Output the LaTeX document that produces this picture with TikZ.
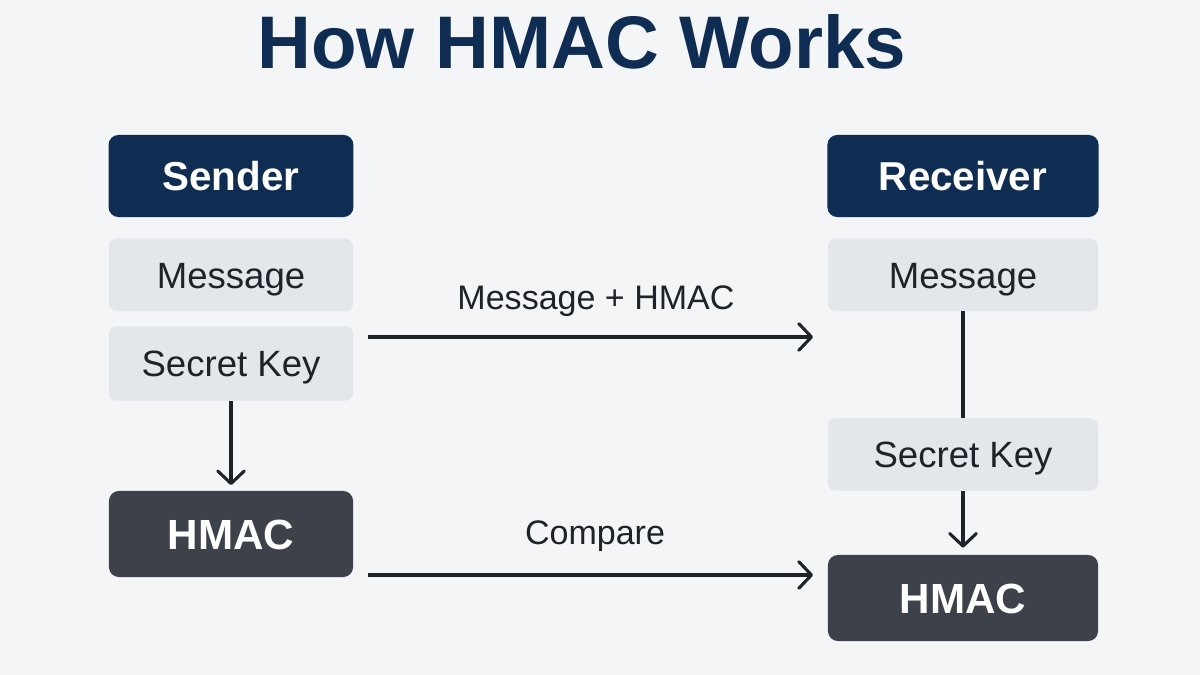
\documentclass[tikz,border=0pt]{standalone}
\usepackage{fontspec}
\setmainfont{Liberation Sans}
\usetikzlibrary{positioning,arrows.meta}
\definecolor{bgcol}{HTML}{F3F5F7}
\definecolor{navycol}{HTML}{0F2C52}
\definecolor{slatecol}{HTML}{3D424A}
\definecolor{palecol}{HTML}{E3E6EA}
\definecolor{inkcol}{HTML}{1E2329}
\tikzset{
  px/.style={x=0.025cm,y=-0.025cm},
  head/.style={fill=navycol,rounded corners=7pt,text=white,font=\fontsize{28.7}{30}\selectfont\bfseries,inner sep=0pt,text height=20.6pt,text depth=0pt},
  item/.style={fill=palecol,rounded corners=5pt,text=inkcol,font=\fontsize{26}{30}\selectfont,inner sep=0pt,text height=18.6pt,text depth=0pt},
  result/.style={fill=slatecol,rounded corners=7pt,text=white,font=\fontsize{30}{32}\selectfont\bfseries,inner sep=0pt,text height=21.5pt,text depth=0pt},
  link/.style={draw=inkcol,line width=2.2pt},
  flow/.style={link,-{Straight Barb[length=9pt,width=19pt,line width=2.2pt,round]}},
  tag/.style={text=inkcol,font=\fontsize{24.2}{30}\selectfont,inner sep=0pt,text height=17.3pt,text depth=0pt}
}
\begin{document}
\begin{tikzpicture}[px]
\useasboundingbox[fill=bgcol] (0,0) rectangle (1200,675);
% Title
\node[text=navycol,font=\fontsize{53}{60}\selectfont\bfseries,inner sep=0pt,text height=38pt,text depth=0pt] (title) at (582,42) {How HMAC Works};
% Sender side
\node[head,minimum width=6.12cm,minimum height=2.05cm] (sender) at (231,176) {Sender};
\node[item,minimum width=6.1cm,minimum height=1.8cm] (msgs) at (231,275) {Message};
\node[item,minimum width=6.1cm,minimum height=1.85cm] (keys) at (231,363.5) {Secret Key};
\node[result,minimum width=6.1cm,minimum height=2.15cm] (macs) at (231,534) {HMAC};
% Receiver side
\node[head,minimum width=6.78cm,minimum height=2.05cm] (receiver) at (963,176) {Receiver};
\node[item,minimum width=6.75cm,minimum height=1.8cm] (msgr) at (963,275) {Message};
\node[item,minimum width=6.75cm,minimum height=1.8cm] (keyr) at (963,454.5) {Secret Key};
\node[result,minimum width=6.75cm,minimum height=2.15cm] (macr) at (963,598) {HMAC};
% Free ends of the long arrows
\coordinate (a1) at (368,337);
\coordinate (a2) at (813,337);
\coordinate (b1) at (368,575);
\coordinate (b2) at (813,575);
% Connectors
\draw[flow] (a1) -- (a2);
\draw[flow] (b1) -- (b2);
\draw[flow,shorten >=4pt] (keys) -- (macs);
\draw[link] (msgr) -- (keyr);
\draw[flow,shorten >=5pt] (keyr) -- (macr);
% Arrow labels
\node[tag] (tagmsg) at (596,297) {Message + HMAC};
\node[tag] (tagcmp) at (595,532) {Compare};
\end{tikzpicture}
\end{document}
